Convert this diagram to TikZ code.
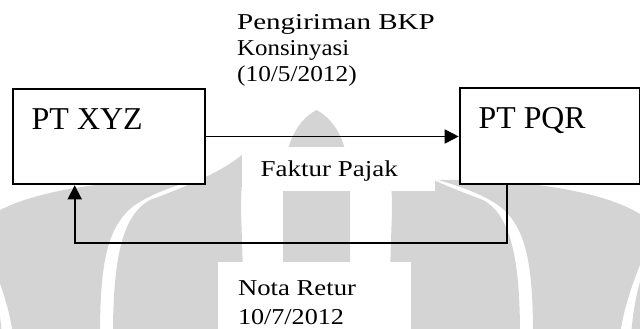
\documentclass[tikz,border=0pt]{standalone}
\usepackage{graphicx}
\usepackage{fontspec}
\setmainfont{Liberation Serif}
\usetikzlibrary{arrows.meta}

\definecolor{wmgrey}{RGB}{212,212,212}

% set a line of text to a given width, keeping its height
\newcommand{\fitline}[2]{\resizebox{#1}{\height}{#2}}

\tikzset{
  entity/.style={draw=black, line width=2pt, fill=white, inner sep=0pt, anchor=north west},
  entitytext/.style={anchor=base west, inner sep=0pt, font=\fontsize{31.8}{38}\selectfont},
  flowtext/.style={anchor=base west, inner sep=0pt, font=\fontsize{22.7}{26}\selectfont},
  conn/.style={line width=1.7pt, -{Triangle[length=14pt,width=14pt]}},
  wm/.style={fill=wmgrey, draw=none}
}

\begin{document}
\begin{tikzpicture}[x=1pt, y=-1pt]
\useasboundingbox (0,0) rectangle (640,329);

% faint emblem in the background (symmetric about x = 316.5)
\begin{scope}
  \clip (0,0) rectangle (640,329);
  % centre lobe
  \fill[wm] (316.5,110) .. controls (294,122) and (283,150) .. (283,190) -- (283,335)
     -- (350,335) -- (350,190) .. controls (350,150) and (339,122) .. (316.5,110) -- cycle;
  % inner leaves
  \fill[wm] (250,147) .. controls (243,165) and (241,185) .. (241,210) -- (245,335)
     -- (113,335) .. controls (113,260) and (122,215) .. (150,200)
     .. controls (190,185) and (232,168) .. (250,147) -- cycle;
  \fill[wm] (383,147) .. controls (390,165) and (392,185) .. (392,210) -- (388,335)
     -- (520,335) .. controls (520,260) and (511,215) .. (483,200)
     .. controls (443,185) and (401,168) .. (383,147) -- cycle;
  % outer leaves
  \fill[wm] (100,335) .. controls (100,260) and (108,225) .. (135,205)
     .. controls (150,195) and (170,187) .. (195,180)
     .. controls (120,178) and (20,190) .. (-15,220) -- (-15,245)
     .. controls (-3,275) and (8,300) .. (13,335) -- cycle;
  \fill[wm] (533,335) .. controls (533,260) and (525,225) .. (498,205)
     .. controls (483,195) and (463,187) .. (438,180)
     .. controls (513,178) and (613,190) .. (648,220) -- (648,245)
     .. controls (636,275) and (625,300) .. (620,335) -- cycle;
  % outermost rims
  \fill[wm] (652,250) .. controls (640,275) and (634,300) .. (631,335) -- (660,335) -- cycle;
  \fill[wm] (-19,250) .. controls (-7,275) and (-1,300) .. (2,335) -- (-27,335) -- cycle;
\end{scope}

% the two parties
\node[entity, minimum width=192.3pt, minimum height=95.6pt] (xyz) at (12,87.7) {};
\node[entity, minimum width=180.3pt, minimum height=96pt] (pqr) at (458.7,86.7) {};
\node[entitytext] (xyzname) at (31.5,129.3) {\fitline{111pt}{PT XYZ}};
\node[entitytext] (pqrname) at (478.5,128.4) {\fitline{107pt}{PT PQR}};

% label backgrounds
\fill[white] (241.7,147) rectangle (435,190.7);
\fill[white] (218.3,261.7) rectangle (410.7,335);

% flows
\draw[conn] (xyz.east) -- (xyz.east -| pqr.west);
\draw[conn] ([xshift=48pt]pqr.south west) -- ++(0,58) -| ([xshift=62.7pt]xyz.south west);

% labels
\node[flowtext] (shipping) at (237,29.3)
  {\begin{tabular}[t]{@{}l@{}}\fitline{197.5pt}{Pengiriman BKP}\\
   \fitline{112pt}{Konsinyasi}\\\fitline{119.5pt}{(10/5/2012)}\end{tabular}};
\node[flowtext] (invoice) at (260.5,176) {\fitline{137pt}{Faktur Pajak}};
\node[flowtext, font=\fontsize{22.7}{29.3}\selectfont] (retur) at (237.8,295)
  {\begin{tabular}[t]{@{}l@{}}\fitline{118pt}{Nota Retur}\\\fitline{106pt}{10/7/2012}\end{tabular}};
\end{tikzpicture}
\end{document}
